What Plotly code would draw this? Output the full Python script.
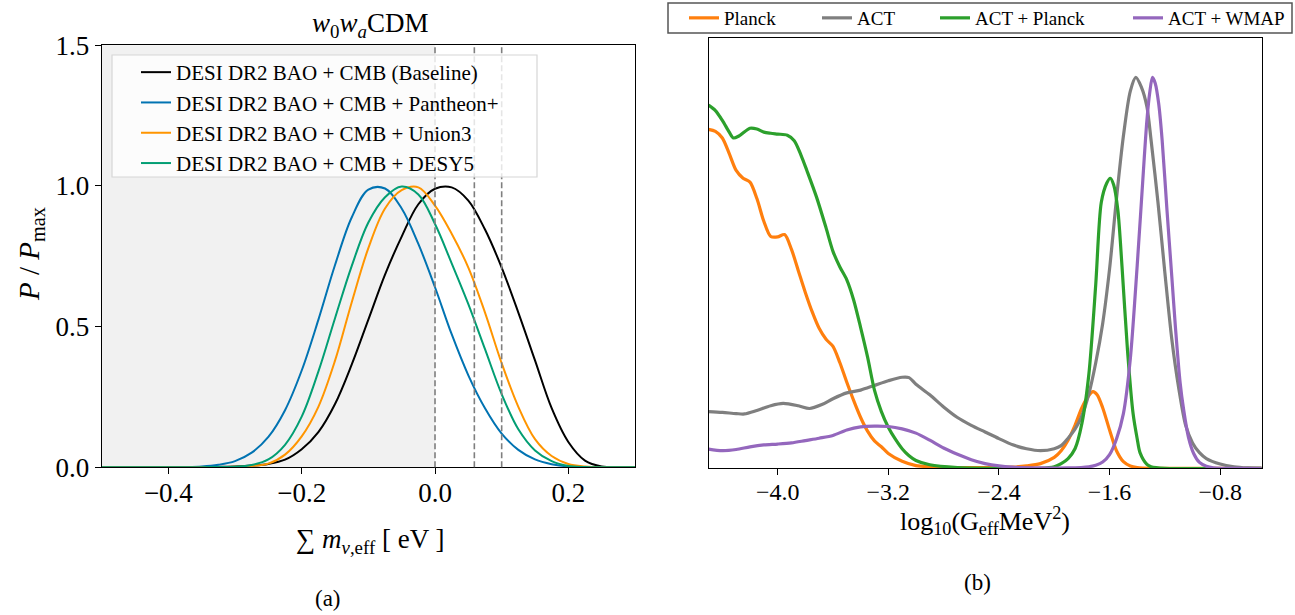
import plotly.graph_objects as go

# ---------------- Panel (a): sum of neutrino masses posteriors ----------------
mnu = [-0.5, -0.475, -0.45, -0.425, -0.4, -0.375, -0.35, -0.325, -0.3, -0.275,
       -0.25, -0.225, -0.2, -0.175, -0.15, -0.125, -0.1, -0.075, -0.05, -0.025,
       0.0, 0.025, 0.05, 0.075, 0.1, 0.125, 0.15, 0.175, 0.2, 0.225, 0.25, 0.275, 0.3]

p_baseline = [0, 0, 0, 0, 0, 0, 0.001, 0.002, 0.003, 0.006,
              0.012, 0.027, 0.064, 0.125, 0.225, 0.365, 0.525, 0.685, 0.82, 0.935,
              0.99, 0.995, 0.948, 0.845, 0.71, 0.55, 0.38, 0.21, 0.09, 0.024, 0.003, 0, 0]
p_pantheon = [0, 0, 0, 0, 0.0003, 0.001, 0.003, 0.009, 0.022, 0.052,
              0.108, 0.203, 0.344, 0.524, 0.719, 0.888, 0.987, 0.991, 0.92, 0.794,
              0.64, 0.473, 0.327, 0.21, 0.12, 0.062, 0.028, 0.011, 0.003, 0.001, 0, 0, 0]
p_union3 = [0, 0, 0, 0, 0, 0, 0, 0.001, 0.002, 0.005,
            0.013, 0.045, 0.11, 0.215, 0.379, 0.586, 0.779, 0.92, 0.985, 0.995,
            0.93, 0.83, 0.71, 0.55, 0.37, 0.215, 0.10, 0.04, 0.012, 0.003, 0, 0, 0]
p_desy5 = [0, 0, 0, 0, 0, 0, 0.0005, 0.001, 0.002, 0.008,
           0.028, 0.08, 0.18, 0.34, 0.53, 0.715, 0.87, 0.96, 0.998, 0.97,
           0.865, 0.725, 0.58, 0.42, 0.26, 0.135, 0.06, 0.022, 0.005, 0.001, 0, 0, 0]

labels_a = ["DESI DR2 BAO + CMB (Baseline)", "DESI DR2 BAO + CMB + Pantheon+",
            "DESI DR2 BAO + CMB + Union3", "DESI DR2 BAO + CMB + DESY5"]
colors_a = ["#000000", "#0173b2", "#ff9500", "#029e73"]

# physical region starts at 0; oscillation minima for NO / IO
mnu_shade_edge = 0.0
mnu_markers = [0.0, 0.059, 0.10]

# ---------------- Panel (b): log10(G_eff MeV^2) posteriors ----------------
logG_planck = [-4.5, -4.45, -4.4, -4.35, -4.3, -4.25, -4.2, -4.15, -4.1, -4.05,
               -4.0, -3.95, -3.9, -3.85, -3.8, -3.75, -3.7, -3.65, -3.6, -3.55,
               -3.5, -3.45, -3.4, -3.35, -3.3, -3.25, -3.2, -3.1, -3.0, -2.9,
               -2.7, -2.5, -2.3, -2.2, -2.1, -2.0, -1.95, -1.9, -1.85, -1.8,
               -1.75, -1.72, -1.69, -1.65, -1.6, -1.55, -1.5, -1.45, -1.4, -1.3,
               -1.0, -0.5]
p_planck = [0.867, 0.862, 0.845, 0.805, 0.762, 0.742, 0.732, 0.69, 0.632, 0.593,
            0.592, 0.598, 0.56, 0.505, 0.45, 0.40, 0.358, 0.33, 0.312, 0.27,
            0.22, 0.173, 0.13, 0.095, 0.07, 0.055, 0.038, 0.018, 0.007, 0.004,
            0.002, 0.002, 0.003, 0.006, 0.012, 0.028, 0.045, 0.072, 0.11, 0.155,
            0.186, 0.196, 0.188, 0.155, 0.098, 0.045, 0.017, 0.006, 0.002, 0.0,
            0.0, 0.0]

logG_act = [-4.5, -4.4, -4.3, -4.24, -4.15, -4.05, -3.96, -3.85, -3.77, -3.68,
            -3.6, -3.5, -3.4, -3.3, -3.2, -3.1, -3.05, -3.0, -2.9, -2.8,
            -2.7, -2.6, -2.5, -2.4, -2.3, -2.2, -2.1, -2.0, -1.95, -1.9,
            -1.85, -1.8, -1.75, -1.7, -1.65, -1.6, -1.55, -1.5, -1.45, -1.41,
            -1.37, -1.33, -1.3, -1.25, -1.2, -1.15, -1.1, -1.05, -1.0, -0.95,
            -0.9, -0.8, -0.7, -0.6, -0.5]
p_act = [0.145, 0.143, 0.14, 0.139, 0.148, 0.16, 0.166, 0.16, 0.153, 0.163,
         0.178, 0.193, 0.2, 0.212, 0.224, 0.233, 0.232, 0.215, 0.188, 0.157,
         0.13, 0.11, 0.093, 0.076, 0.06, 0.05, 0.045, 0.05, 0.058, 0.077,
         0.1, 0.135, 0.19, 0.27, 0.37, 0.51, 0.69, 0.85, 0.965, 1.0,
         0.975, 0.925, 0.84, 0.68, 0.5, 0.33, 0.205, 0.11, 0.065, 0.04,
         0.025, 0.011, 0.004, 0.001, 0.0]

logG_act_planck = [-4.5, -4.45, -4.4, -4.35, -4.32, -4.28, -4.2, -4.15, -4.1, -4.05,
                   -4.0, -3.93, -3.88, -3.83, -3.79, -3.72, -3.65, -3.6, -3.55, -3.5,
                   -3.45, -3.4, -3.35, -3.3, -3.25, -3.2, -3.15, -3.1, -3.05, -3.0,
                   -2.9, -2.7, -2.4, -2.1, -2.0, -1.95, -1.9, -1.85, -1.8, -1.75,
                   -1.7, -1.66, -1.62, -1.595, -1.57, -1.54, -1.51, -1.47, -1.43, -1.4,
                   -1.38, -1.33, -1.3, -1.2, -0.5]
p_act_planck = [0.929, 0.915, 0.89, 0.86, 0.845, 0.85, 0.87, 0.868, 0.86, 0.857,
                0.855, 0.852, 0.838, 0.8, 0.763, 0.695, 0.615, 0.555, 0.515, 0.482,
                0.43, 0.36, 0.285, 0.2, 0.145, 0.105, 0.075, 0.05, 0.032, 0.02,
                0.009, 0.002, 0.0, 0.0, 0.004, 0.012, 0.025, 0.05, 0.115, 0.24,
                0.47, 0.68, 0.73, 0.742, 0.725, 0.66, 0.516, 0.30, 0.14, 0.075,
                0.04, 0.01, 0.004, 0.0, 0.0]

logG_act_wmap = [-4.5, -4.4, -4.3, -4.2, -4.1, -4.0, -3.9, -3.8, -3.7, -3.6,
                 -3.5, -3.4, -3.3, -3.2, -3.1, -3.0, -2.9, -2.8, -2.7, -2.6,
                 -2.5, -2.4, -2.3, -2.1, -1.9, -1.75, -1.7, -1.65, -1.6, -1.55,
                 -1.5, -1.45, -1.4, -1.35, -1.33, -1.31, -1.29, -1.27, -1.245, -1.22,
                 -1.185, -1.15, -1.124, -1.09, -1.064, -1.03, -0.992, -0.95, -0.9, -0.85,
                 -0.5]
p_act_wmap = [0.049, 0.045, 0.048, 0.055, 0.06, 0.062, 0.065, 0.071, 0.077, 0.084,
              0.098, 0.106, 0.108, 0.107, 0.101, 0.09, 0.072, 0.052, 0.036, 0.022,
              0.012, 0.006, 0.003, 0.001, 0.001, 0.004, 0.008, 0.016, 0.035, 0.075,
              0.14, 0.28, 0.52, 0.79, 0.89, 0.96, 1.0, 0.985, 0.933, 0.84,
              0.661, 0.49, 0.362, 0.22, 0.149, 0.08, 0.038, 0.015, 0.005, 0.001,
              0.0]

labels_b = ["Planck", "ACT", "ACT + Planck", "ACT + WMAP"]
colors_b = ["#ff7f0e", "#7f7f7f", "#2ca02c", "#9467bd"]

mnu_ticks = [-0.4, -0.2, 0.0, 0.2]
pmax_ticks = [0.0, 0.5, 1.0, 1.5]
logG_ticks = [-4.0, -3.2, -2.4, -1.6, -0.8]

# ---------------- layout helpers (pixel -> paper) ----------------
W, H = 1295, 615
FONT = "Liberation Serif"


def fx(p):
    return p / W


def fy(p):
    return 1 - p / H


fig = go.Figure()

series_a = [p_baseline, p_pantheon, p_union3, p_desy5]
for name, ys, col in zip(labels_a, series_a, colors_a):
    fig.add_trace(go.Scatter(
        x=mnu, y=ys, name=name, mode="lines",
        line=dict(color=col, width=2.0, shape="spline", smoothing=1.0),
        xaxis="x", yaxis="y", legend="legend", hoverinfo="skip"))

series_b = [(logG_planck, p_planck), (logG_act, p_act),
            (logG_act_planck, p_act_planck), (logG_act_wmap, p_act_wmap)]
for i, (name, (xs, ys), col) in enumerate(zip(labels_b, series_b, colors_b)):
    fig.add_trace(go.Scatter(
        x=xs, y=ys, name=name, mode="lines",
        line=dict(color=col, width=3.2, shape="spline", smoothing=0.8),
        xaxis="x2", yaxis="y2", legend=f"legend{i + 2}", hoverinfo="skip"))

# shaded unphysical region and reference mass lines
shapes = [dict(type="rect", xref="x", yref="y domain", x0=-0.5, x1=mnu_shade_edge,
               y0=0, y1=1, fillcolor="#f1f1f1", line=dict(width=0), layer="below")]
for v in mnu_markers:
    shapes.append(dict(type="line", xref="x", yref="y domain", x0=v, x1=v, y0=0, y1=1,
                       line=dict(color="#7f7f7f", width=1.6, dash="6px,3px"),
                       layer="above"))
# translucent backing box for the panel (a) legend
shapes.append(dict(type="rect", xref="paper", yref="paper",
                   x0=fx(112), x1=fx(537), y0=fy(177), y1=fy(55),
                   fillcolor="rgba(255,255,255,0.8)",
                   line=dict(color="#d6d6d6", width=1.2), layer="above"))
# frame around the panel (b) legend row
shapes.append(dict(type="rect", xref="paper", yref="paper",
                   x0=fx(668), x1=fx(1292), y0=fy(33), y1=fy(3),
                   line=dict(color="#555555", width=1.5), fillcolor="rgba(0,0,0,0)"))

axis_common = dict(showline=True, linecolor="black", linewidth=1.3, mirror=True,
                   showgrid=False, zeroline=False, ticks="outside", ticklen=6,
                   tickwidth=1.3, tickcolor="black")

layout = dict(
    width=W, height=H,
    margin=dict(l=0, r=0, t=0, b=0, autoexpand=False),
    paper_bgcolor="white", plot_bgcolor="white",
    font=dict(family=FONT, color="black"),
    xaxis=dict(domain=[fx(101.7), fx(635)], range=[-0.5, 0.3], anchor="y",
               tickvals=mnu_ticks, tickformat=".1f", ticklabelstandoff=-5,
               tickfont=dict(size=27, family=FONT), **axis_common),
    yaxis=dict(domain=[fy(467.3), fy(45.3)], range=[0, 1.5], anchor="x",
               tickvals=pmax_ticks, tickformat=".1f",
               tickfont=dict(size=27, family=FONT), **axis_common),
    xaxis2=dict(domain=[fx(708.5), fx(1261.7)], range=[-4.5, -0.5], anchor="y2",
                tickvals=logG_ticks, tickformat=".1f", ticklabelstandoff=-4,
                tickfont=dict(size=24, family=FONT), **axis_common),
    yaxis2=dict(domain=[fy(468.3), fy(38.3)], range=[0, 1.1], anchor="x2",
                showline=True, linecolor="black", linewidth=1.3, mirror=True,
                showgrid=False, zeroline=False, ticks="", showticklabels=False),
    legend=dict(x=fx(136), y=fy(52), xanchor="left", yanchor="top",
                bgcolor="rgba(0,0,0,0)", borderwidth=0,
                font=dict(size=21, family=FONT)),
    shapes=shapes,
)

# one single-entry legend per panel (b) series, laid out in a row
legend_text_x = [724, 857, 975, 1168]
for i, tx in enumerate(legend_text_x):
    layout[f"legend{i + 2}"] = dict(x=fx(tx - 40), y=fy(18), xanchor="left",
                                    yanchor="middle", bgcolor="rgba(0,0,0,0)",
                                    borderwidth=0, font=dict(size=19, family=FONT))

fig.update_layout(**layout)

annotations = [
    dict(text="<i>w</i><sub>0</sub><i>w</i><sub><i>a</i></sub>CDM",
         x=fx(370), y=fy(25), font=dict(size=27)),
    dict(text="<i>P</i> / <i>P</i><sub>max</sub>", x=fx(31), y=fy(254),
         textangle=-90, font=dict(size=29)),
    dict(text="\u2211 <i>m</i><sub><i>\u03bd</i>,eff</sub> [ eV ]",
         x=fx(370), y=fy(541), font=dict(size=27)),
    dict(text="log<sub>10</sub>(G<sub>eff</sub>MeV<sup>2</sup>)",
         x=fx(985), y=fy(521), font=dict(size=26)),
    dict(text="(a)", x=fx(328), y=fy(598), font=dict(size=23)),
    dict(text="(b)", x=fx(977), y=fy(582), font=dict(size=23)),
]
for a in annotations:
    fig.add_annotation(xref="paper", yref="paper", showarrow=False,
                       xanchor="center", yanchor="middle", **a)

fig.write_html("out.html")
